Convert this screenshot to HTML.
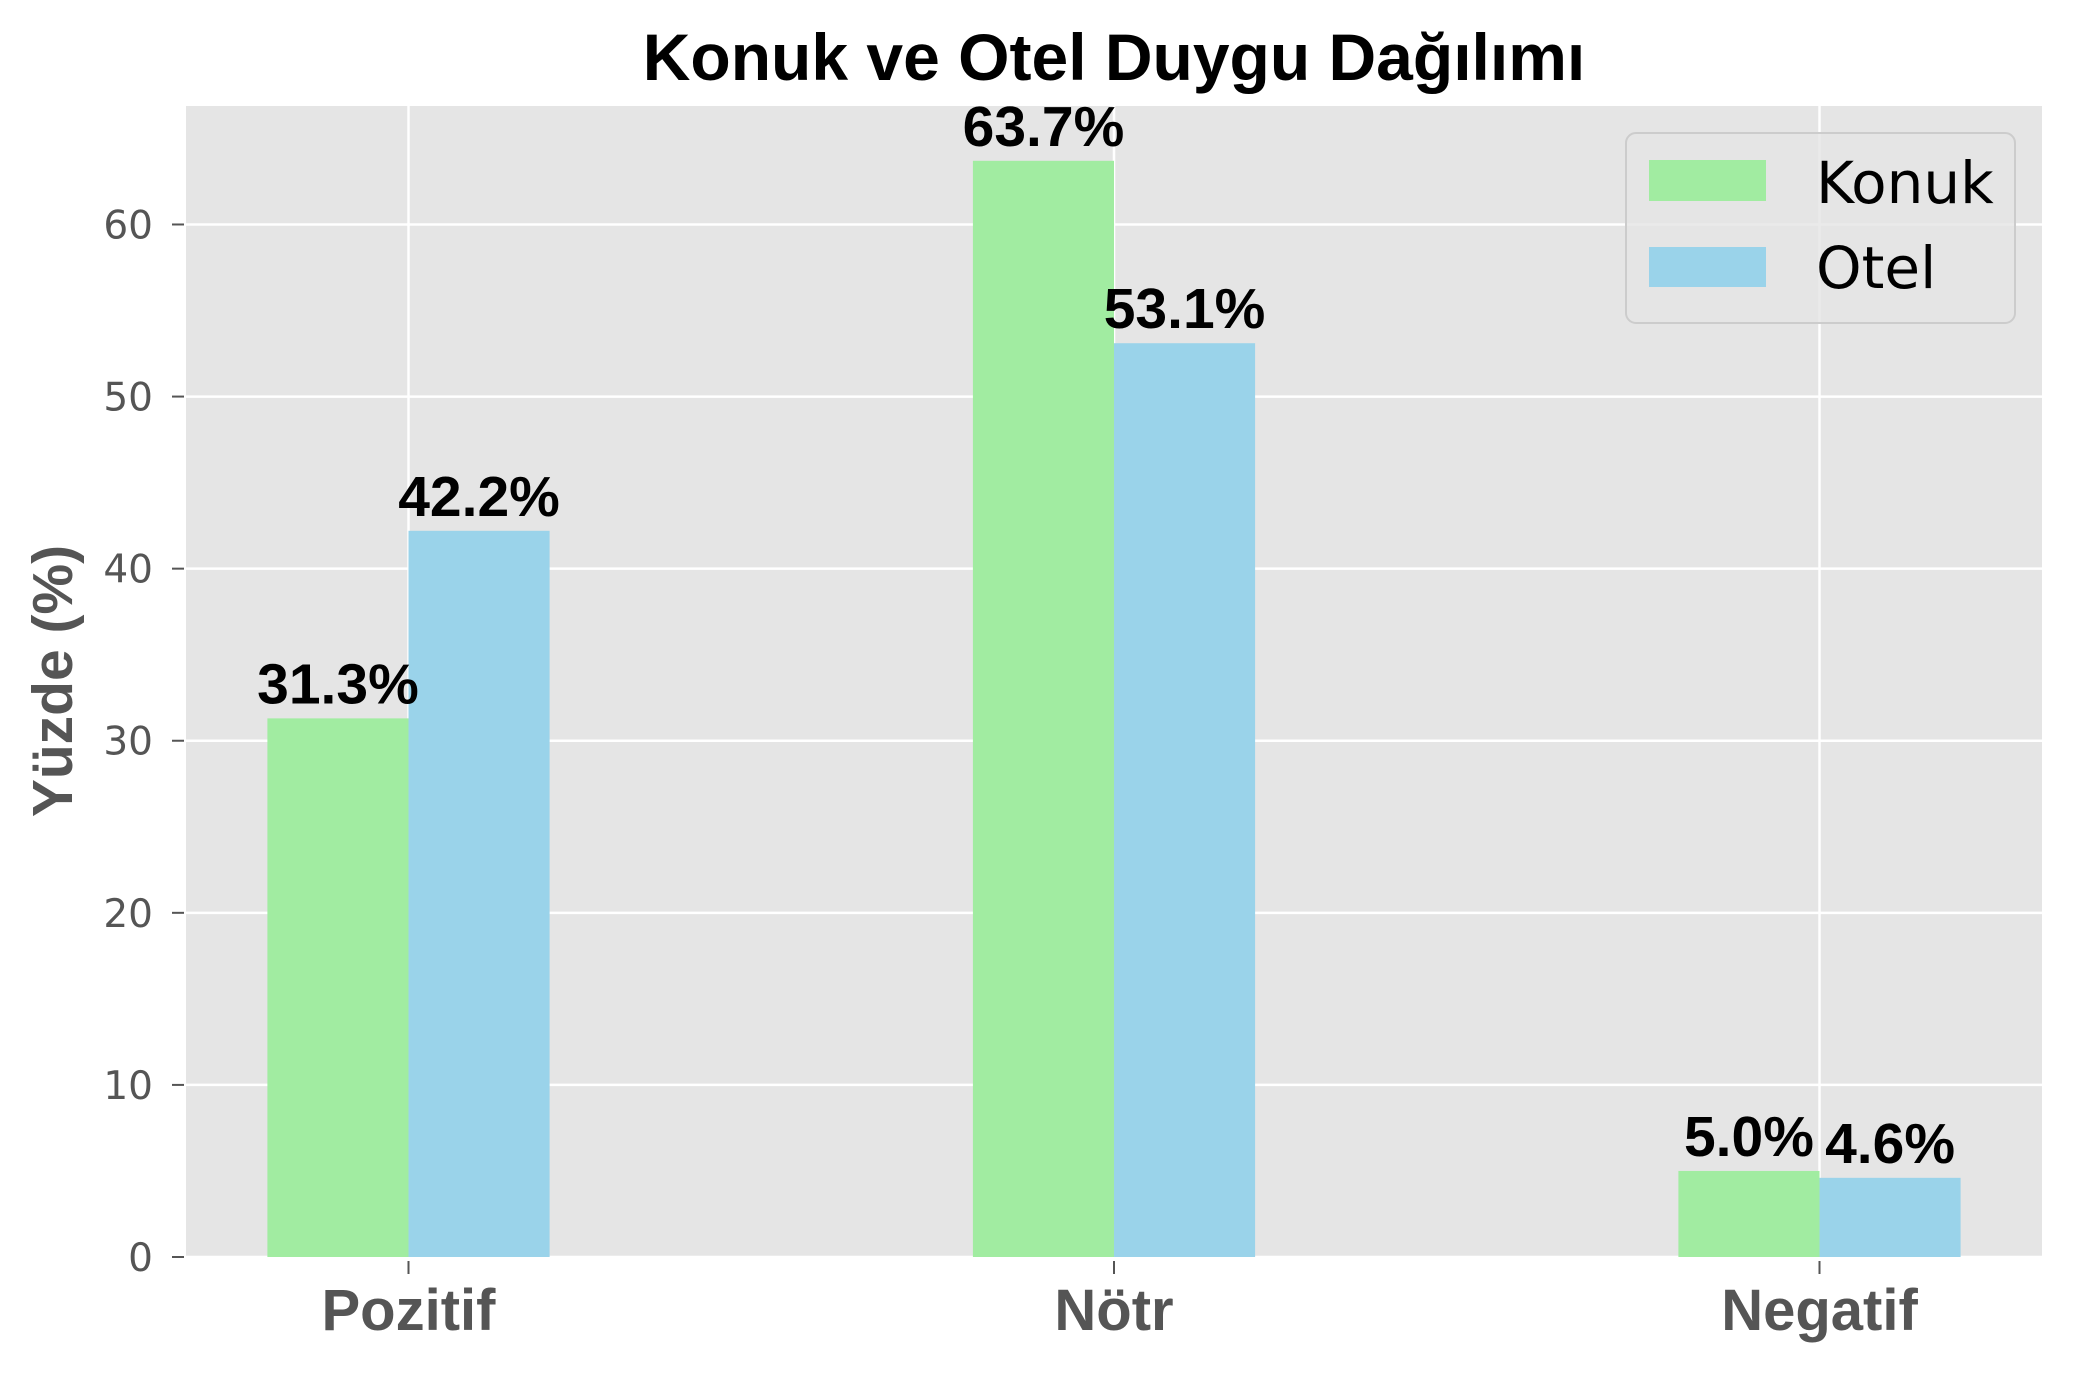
<!DOCTYPE html>
<html><head><meta charset="utf-8"><style>
html,body{margin:0;padding:0;background:#fff;}
svg{display:block;}
</style></head><body>
<svg id="chart" width="2073" height="1373" viewBox="0 0 2073 1373" xmlns="http://www.w3.org/2000/svg">
<rect x="0" y="0" width="2073" height="1373" fill="#ffffff"/>
<rect x="186" y="106" width="1856" height="1151" fill="#e5e5e5"/>
<g id="grid"></g>
<g id="bars"></g>
<g id="labels"></g>
<g id="yaxis"></g>
<g id="xaxis"></g>
<text x="1114" y="80" text-anchor="middle" font-family="Liberation Sans, Arial, sans-serif" font-weight="bold" font-size="66" fill="#000">Konuk ve Otel Duygu Dağılımı</text>
<text transform="translate(72,681) rotate(-90)" text-anchor="middle" font-family="Liberation Sans, Arial, sans-serif" font-weight="bold" font-size="57" fill="#555">Yüzde (%)</text>
<g>
<rect x="1626" y="133" width="389" height="190" rx="10" fill="#e5e5e5" fill-opacity="0.8" stroke="#cccccc" stroke-width="2"/>
<rect x="1649" y="160" width="117" height="41" fill="#a1eca1"/>
<text x="1816" y="203" font-family="DejaVu Sans, sans-serif" font-size="58" fill="#000">Konuk</text>
<rect x="1649" y="247" width="117" height="40" fill="#9ad3ea"/>
<text x="1816" y="288" font-family="DejaVu Sans, sans-serif" font-size="58" fill="#000">Otel</text>
</g>
</svg>
<script>
const categories = ["Pozitif", "Nötr", "Negatif"];
const konukValues = [31.3, 63.7, 5.0];
const otelValues = [42.2, 53.1, 4.6];
const yTicks = [0, 10, 20, 30, 40, 50, 60];

const NS = "http://www.w3.org/2000/svg";
const plotLeft = 186, plotRight = 2042, plotTop = 106, plotBottom = 1257;
const yMax = Math.max(...konukValues, ...otelValues) * 1.05;
const xCenter0 = 408.5, xUnit = 705.5, barW = 0.2 * xUnit;
function yScale(v){ return plotBottom - v / yMax * (plotBottom - plotTop); }
function xScale(i){ return xCenter0 + i * xUnit; }
function mk(tag, attrs, parent){
  const el = document.createElementNS(NS, tag);
  for (const k in attrs) el.setAttribute(k, attrs[k]);
  parent.appendChild(el);
  return el;
}
const grid = document.getElementById('grid');
const bars = document.getElementById('bars');
const labels = document.getElementById('labels');
const yaxis = document.getElementById('yaxis');
const xaxis = document.getElementById('xaxis');

yTicks.forEach(t => {
  const y = yScale(t);
  const gl = mk('line', {x1: plotLeft, x2: plotRight, y1: y, y2: y, stroke: '#fff', 'stroke-width': 2.5}, grid);
  
  
  const tk = mk('line', {x1: 172, x2: 184, y1: y, y2: y, stroke: '#555', 'stroke-width': 2}, yaxis);
  
  
  const tl = mk('text', {x: 153, y: y + 14, 'text-anchor': 'end', 'font-family': 'DejaVu Sans, sans-serif', 'font-size': 39, fill: '#555'}, yaxis);
  tl.textContent = t;
  
  
});

categories.forEach((c, i) => {
  const x = xScale(i);
  const gl = mk('line', {x1: x, x2: x, y1: plotTop, y2: plotBottom, stroke: '#fff', 'stroke-width': 2.5}, grid);
  
  
  const tk = mk('line', {x1: x, x2: x, y1: 1261, y2: 1274, stroke: '#555', 'stroke-width': 2}, xaxis);
  
  
  const tl = mk('text', {x: x, y: 1330, 'text-anchor': 'middle', 'font-family': 'Liberation Sans, Arial, sans-serif', 'font-weight': 'bold', 'font-size': 58, fill: '#555'}, xaxis);
  tl.textContent = c;
  
  

  [[konukValues[i], x - barW, '#a1eca1', 'bar-konuk'], [otelValues[i], x, '#9ad3ea', 'bar-otel']].forEach(([v, bx, col, nm]) => {
    const yt = yScale(v);
    const r = mk('rect', {x: bx, y: yt, width: barW, height: plotBottom - yt, fill: col}, bars);
    
    
    const lb = mk('text', {x: bx + barW / 2, y: yt - 15, 'text-anchor': 'middle', 'font-family': 'Liberation Sans, Arial, sans-serif', 'font-weight': 'bold', 'font-size': 57, fill: '#000'}, labels);
    lb.textContent = v.toFixed(1) + '%';
    
    
  });
});
</script>
</body></html>
